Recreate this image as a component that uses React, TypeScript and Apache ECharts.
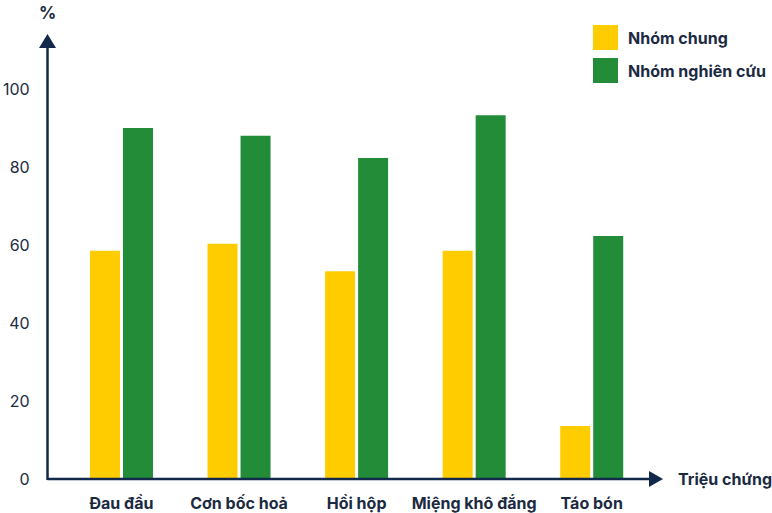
import React, { useEffect, useRef } from "react";
import * as echarts from "echarts";

const categories = ["Đau đầu", "Cơn bốc hoả", "Hồi hộp", "Miệng khô đắng", "Táo bón"];
const seriesNames = ["Nhóm chung", "Nhóm nghiên cứu"];
const nhomChung = [58.5, 60.3, 53.3, 58.5, 13.6];
const nhomNghienCuu = [90.0, 88.0, 82.3, 93.3, 62.3];
const yTicks = { min: 0, max: 100, interval: 20 };
const yName = "%";
const xName = "Triệu chứng";

const AXIS = "#13294b";
const TEXT = "#1b2a41";
const YELLOW = "#ffcc00";
const GREEN = "#228c38";
const FONT = "Inter, 'Noto Sans', sans-serif";

export default function App() {
  const ref = useRef<HTMLDivElement>(null);
  useEffect(() => {
    if (!ref.current) return;
    const chart = echarts.init(ref.current, null, { renderer: "svg" });
    chart.setOption({
      animation: false,
      textStyle: { fontFamily: FONT },
      grid: { left: 60.5, width: 590, top: 89, height: 390, containLabel: false },
      legend: {
        orient: "vertical",
        left: 593,
        top: 25,
        padding: 0,
        itemWidth: 25,
        itemHeight: 25,
        itemGap: 8,
        icon: "rect",
        data: seriesNames,
        textStyle: {
          fontFamily: FONT,
          fontSize: 16,
          fontWeight: "bold",
          color: TEXT,
          padding: [0, 0, 0, 5],
        },
      },
      xAxis: {
        type: "category",
        data: categories,
        axisLine: { show: false },
        axisTick: { show: false },
        axisLabel: {
          margin: 16,
          fontFamily: FONT,
          fontSize: 16,
          fontWeight: "bold",
          color: TEXT,
          interval: 0,
        },
        splitLine: { show: false },
      },
      yAxis: {
        type: "value",
        min: yTicks.min,
        max: yTicks.max,
        interval: yTicks.interval,
        axisLine: { show: false },
        axisTick: { show: false },
        splitLine: { show: false },
        axisLabel: {
          margin: 33,
          fontFamily: FONT,
          fontSize: 16,
          color: TEXT,
        },
      },
      series: [
        {
          name: seriesNames[0],
          type: "bar",
          data: nhomChung,
          barWidth: 30,
          barGap: "10%",
          itemStyle: { color: YELLOW },
        },
        {
          name: seriesNames[1],
          type: "bar",
          data: nhomNghienCuu,
          barWidth: 30,
          barGap: "10%",
          itemStyle: { color: GREEN },
        },
      ],
      graphic: [
        {
          type: "line",
          z: 10,
          shape: { x1: 47.5, y1: 479, x2: 650, y2: 479 },
          style: { stroke: AXIS, lineWidth: 2.5 },
        },
        {
          type: "line",
          z: 10,
          shape: { x1: 47.5, y1: 480, x2: 47.5, y2: 47 },
          style: { stroke: AXIS, lineWidth: 2.5 },
        },
        {
          type: "polygon",
          z: 10,
          shape: { points: [[39, 48], [47.5, 34], [56, 48]] },
          style: { fill: AXIS },
        },
        {
          type: "polygon",
          z: 10,
          shape: { points: [[649, 471], [663, 479], [649, 487]] },
          style: { fill: AXIS },
        },
        {
          type: "text",
          x: 47.5,
          y: 13,
          style: {
            text: yName,
            fontFamily: FONT,
            fontSize: 17,
            fontWeight: "bold",
            fill: TEXT,
            align: "center",
            verticalAlign: "middle",
          },
        },
        {
          type: "text",
          x: 678,
          y: 479,
          style: {
            text: xName,
            fontFamily: FONT,
            fontSize: 16,
            fontWeight: "bold",
            fill: TEXT,
            align: "left",
            verticalAlign: "middle",
          },
        },
      ],
    });
    return () => chart.dispose();
  }, []);
  return <div ref={ref} style={{ width: 772, height: 513, position: "absolute", left: 0, top: 0 }} />;
}
